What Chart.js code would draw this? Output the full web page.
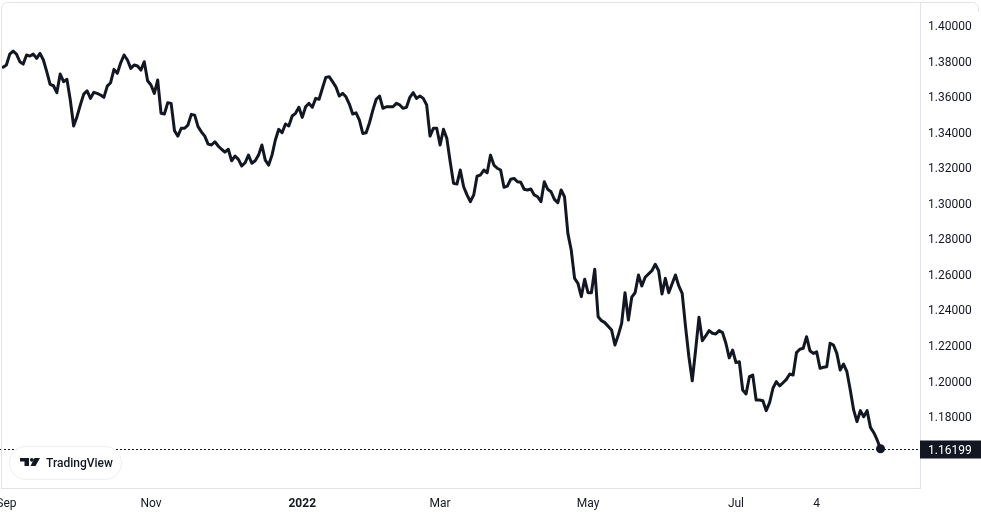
<!DOCTYPE html>
<html>
<head>
<meta charset="utf-8">
<script src="https://cdn.jsdelivr.net/npm/chart.js@4.4.1/dist/chart.umd.min.js"></script>
<style>
  html, body { margin: 0; padding: 0; background: #ffffff; }
  canvas { display: block; }
</style>
</head>
<body>
<canvas id="rateChart" width="981" height="513"></canvas>
<script>
'use strict';

// daily closes, trading-day index: Sep 1 2021 = 0, first close is the day before
const firstDay = -1;
const rates = [
	1.3765, 1.3778, 1.3839, 1.3856, 1.3839, 1.3796, 1.3783, 1.3834, 1.3828, 1.3839,
	1.3815, 1.3843, 1.3806, 1.3740, 1.3669, 1.3661, 1.3622, 1.3727, 1.3684, 1.3697,
	1.3581, 1.3435, 1.3487, 1.3553, 1.3614, 1.3633, 1.3590, 1.3624, 1.3618, 1.3609,
	1.3596, 1.3659, 1.3678, 1.3753, 1.3731, 1.3790, 1.3834, 1.3806, 1.3759, 1.3778,
	1.3772, 1.3749, 1.3796, 1.3689, 1.3665, 1.3618, 1.3693, 1.3506, 1.3502, 1.3566,
	1.3562, 1.3408, 1.3378, 1.3422, 1.3422, 1.3440, 1.3500, 1.3496, 1.3431, 1.3402,
	1.3378, 1.3333, 1.3328, 1.3346, 1.3322, 1.3304, 1.3288, 1.3304, 1.3239, 1.3266,
	1.3247, 1.3210, 1.3228, 1.3271, 1.3225, 1.3239, 1.3271, 1.3328, 1.3243, 1.3215,
	1.3271, 1.3356, 1.3416, 1.3397, 1.3446, 1.3435, 1.3491, 1.3506, 1.3540, 1.3483,
	1.3543, 1.3562, 1.3540, 1.3590, 1.3585, 1.3647, 1.3708, 1.3712, 1.3684, 1.3655,
	1.3603, 1.3618, 1.3599, 1.3558, 1.3502, 1.3509, 1.3468, 1.3393, 1.3397, 1.3453,
	1.3524, 1.3585, 1.3603, 1.3534, 1.3543, 1.3543, 1.3543, 1.3562, 1.3553, 1.3534,
	1.3540, 1.3596, 1.3622, 1.3590, 1.3603, 1.3590, 1.3553, 1.3378, 1.3422, 1.3422,
	1.3328, 1.3416, 1.3365, 1.3234, 1.3112, 1.3108, 1.3187, 1.3093, 1.3047, 1.3009,
	1.3047, 1.3153, 1.3159, 1.3187, 1.3172, 1.3271, 1.3215, 1.3197, 1.3187, 1.3090,
	1.3097, 1.3135, 1.3140, 1.3121, 1.3118, 1.3079, 1.3075, 1.3080, 1.3047, 1.3037,
	1.3009, 1.3121, 1.3079, 1.3065, 1.3022, 1.3003, 1.3075, 1.3037, 1.2831, 1.2737,
	1.2578, 1.2550, 1.2475, 1.2573, 1.2497, 1.2497, 1.2629, 1.2362, 1.2340, 1.2329,
	null,   1.2288, 1.2203, 1.2259, 1.2325, 1.2497, 1.2344, 1.2472, 1.2497, 1.2597,
	1.2535, 1.2584, null,   1.2621, 1.2657, 1.2621, 1.2490, 1.2578, 1.2497, null,
	1.2597, 1.2535, 1.2494, 1.2306, 1.2137, 1.2002, 1.2175, 1.2359, 1.2227, 1.2254,
	1.2284, 1.2269, 1.2265, 1.2284, 1.2273, 1.2213, 1.2131, 1.2175, 1.2104, 1.2109,
	1.1950, 1.1928, 1.2025, 1.2034, 1.1894, 1.1894, 1.1890, 1.1834, 1.1879, 1.1960,
	1.1997, 1.1973, 1.1991, 1.2010, 1.2040, 1.2034, 1.2160, 1.2179, 1.2185, 1.2250,
	1.2171, 1.2156, 1.2165, 1.2072, 1.2078, 1.2081, 1.2213, 1.2203, 1.2156, 1.2063,
	1.2096, 1.2053, 1.1950, 1.1838, 1.1772, 1.1834, 1.1800, 1.1834, 1.1740, 1.1710,
	1.1669, 1.16199
];

const monthTickDays = [0, 43, 88, 129, 173, 217, 241];
const monthTickLabels = ['Sep', 'Nov', '2022', 'Mar', 'May', 'Jul', '4'];
const priceTicks = [1.18, 1.20, 1.22, 1.24, 1.26, 1.28, 1.30, 1.32, 1.34, 1.36, 1.38, 1.40];

const ink = '#131722';
const frameColor = '#e0e3eb';
const fontFamily = 'Roboto, "Noto Sans", sans-serif';

const points = rates.map((r, i) => ({ x: firstDay + i, y: r }));
const lastIndex = points.length - 1;
const lastRate = rates[lastIndex];

// outer frame, last price line + label, logo badge
const tvDecor = {
	id: 'tvDecor',
	beforeDatasetsDraw(chart) {
		const { ctx, chartArea } = chart;
		const y = Math.round(chart.scales.y.getPixelForValue(lastRate)) + 0.5;
		ctx.save();
		ctx.strokeStyle = ink;
		ctx.lineWidth = 1;
		ctx.setLineDash([2, 2]);
		ctx.beginPath();
		ctx.moveTo(0, y);
		ctx.lineTo(chartArea.right, y);
		ctx.stroke();
		ctx.restore();
	},
	afterDraw(chart) {
		const { ctx, chartArea } = chart;
		const yScale = chart.scales.y;
		const y = Math.round(yScale.getPixelForValue(lastRate)) + 0.5;

		ctx.save();
		// frame
		ctx.strokeStyle = frameColor;
		ctx.lineWidth = 1;
		ctx.beginPath();
		ctx.moveTo(1.5, chartArea.bottom);
		ctx.lineTo(1.5, 8);
		ctx.arcTo(1.5, 2.5, 7.5, 2.5, 6);
		ctx.lineTo(972.5, 2.5);
		ctx.arcTo(978.5, 2.5, 978.5, 8.5, 6);
		ctx.lineTo(978.5, 12);
		ctx.stroke();

		// last price label
		ctx.fillStyle = ink;
		ctx.fillRect(yScale.left, y - 9, yScale.width, 18);
		ctx.fillStyle = '#ffffff';
		ctx.font = '12px ' + fontFamily;
		ctx.textBaseline = 'middle';
		ctx.textAlign = 'left';
		ctx.fillText(lastRate.toFixed(5), yScale.left + 8, y + 1);

		// TradingView badge
		ctx.beginPath();
		ctx.roundRect(9.5, 446.5, 112, 33, 16.5);
		ctx.fillStyle = '#ffffff';
		ctx.fill();
		ctx.strokeStyle = '#eceef2';
		ctx.stroke();

		ctx.fillStyle = ink;
		ctx.fillRect(20, 458, 9, 3.5);
		ctx.fillRect(24.5, 458, 4.5, 8);
		ctx.beginPath();
		ctx.arc(31.8, 459.8, 1.9, 0, Math.PI * 2);
		ctx.fill();
		ctx.beginPath();
		ctx.moveTo(34.5, 458);
		ctx.lineTo(40, 458);
		ctx.lineTo(35.5, 466);
		ctx.lineTo(30.5, 466);
		ctx.closePath();
		ctx.fill();

		ctx.font = '500 12px ' + fontFamily;
		ctx.fillText('TradingView', 46, 463.5);
		ctx.restore();
	}
};

const chartCtx = document.getElementById('rateChart').getContext('2d');

const rateChart = new Chart(chartCtx, {
	type: 'line',
	data: {
		datasets: [
			{
				data: points,
				borderColor: ink,
				borderWidth: 3,
				borderJoinStyle: 'round',
				borderCapStyle: 'round',
				tension: 0,
				spanGaps: true,
				pointRadius: (c) => (c.dataIndex === lastIndex ? 4.5 : 0),
				pointBackgroundColor: ink,
				pointBorderWidth: 0,
			},
		],
	},
	options: {
		responsive: false,
		animation: false,
		events: [],
		layout: { autoPadding: false, padding: { left: 1, top: 2, right: 0, bottom: 0 } },
		plugins: { legend: { display: false }, tooltip: { enabled: false } },
		scales: {
			x: {
				type: 'linear',
				min: -1.606,
				max: 271.74,
				afterBuildTicks: (s) => {
					s.ticks = monthTickDays.map((v) => ({ value: v }));
				},
				afterFit: (s) => {
					s.height = 25;
					s.paddingLeft = 0;
					s.paddingRight = 0;
				},
				ticks: {
					autoSkip: false,
					maxRotation: 0,
					padding: 9,
					color: ink,
					callback: (v, i) => monthTickLabels[i],
					font: (c) => ({
						family: fontFamily,
						size: 12,
						weight: c.tick && c.tick.label === '2022' ? 'bold' : 'normal',
					}),
				},
				grid: { drawOnChartArea: false, drawTicks: false },
				border: { color: frameColor },
			},
			y: {
				position: 'right',
				min: 1.1399,
				max: 1.4132,
				afterBuildTicks: (s) => {
					s.ticks = priceTicks.map((v) => ({ value: v }));
				},
				afterFit: (s) => {
					s.width = 61;
					s.paddingTop = 0;
					s.paddingBottom = 0;
				},
				ticks: {
					padding: 8,
					labelOffset: 1.5,
					color: ink,
					callback: (v) => v.toFixed(5),
					font: { family: fontFamily, size: 12 },
				},
				grid: { drawOnChartArea: false, drawTicks: false },
				border: { color: frameColor },
			},
		},
	},
	plugins: [tvDecor],
});
</script>
</body>
</html>
